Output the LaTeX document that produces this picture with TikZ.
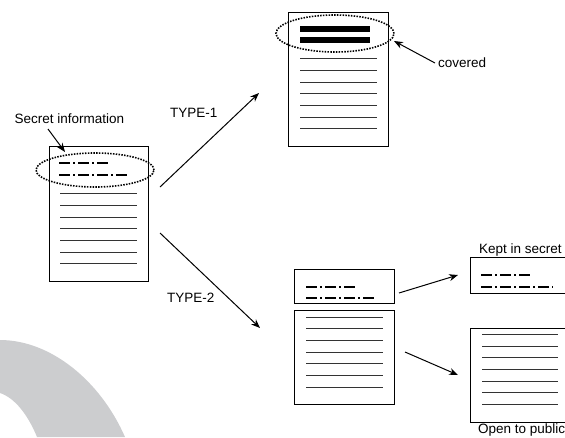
\documentclass[tikz,border=0pt]{standalone}
\usepackage{fontspec}
\setmainfont{Liberation Sans}
\usetikzlibrary{shapes.geometric,arrows.meta}
\definecolor{wmgray}{RGB}{204,205,207}
\tikzset{
  docbox/.style={draw=black, line width=1pt, fill=white, anchor=north west, inner sep=0pt},
  textline/.style={draw=black!80, line width=1pt},
  secretline/.style={draw=black, line width=2.2pt, dash pattern=on 11pt off 3pt on 2pt off 3pt},
  coverbar/.style={draw=black, line width=6pt},
  secretoval/.style={ellipse, draw=black, line width=1.6pt, dash pattern=on 1.5pt off 1.3pt, inner sep=0pt},
  lbl/.style={font=\fontsize{13.5}{16}\selectfont, anchor=base west, inner sep=0pt},
  arr/.style={draw=black, line width=1pt, -{Stealth[length=9pt,width=7pt]}}
}
\begin{document}
\begin{tikzpicture}[x=1pt,y=-1pt]
\useasboundingbox (0,0) rectangle (565,437);
% watermark arc
\fill[wmgray] (0,340) .. controls (50,340) and (100,380) .. (125,437) -- (37,437) .. controls (28,415) and (15,398) .. (0,393) -- cycle;

% left document
\node[docbox, minimum width=99pt, minimum height=135pt] (L) at (49,146) {};
\draw[secretline] (59,163) -- (111,163);
\draw[secretline] (59,175) -- (130,175);
\foreach \y in {193,205,217,228,240,252,263} \draw[textline] (60,\y) -- (137,\y);
\node[secretoval, minimum width=118pt, minimum height=34pt] (E1) at (95,170) {};
\node[lbl] (secret) at (14.5,123) {Secret information};
\coordinate (s1) at (48,129);
\coordinate (s2) at (65,152);
\draw[arr] (s1) -- (s2);

% top document (TYPE-1)
\node[docbox, minimum width=100pt, minimum height=134pt] (T) at (288,12) {};
\draw[coverbar] (300,29) -- (370,29);
\draw[coverbar] (300,40) -- (370,40);
\foreach \y in {58,70,82,93,105,117,128} \draw[textline] (300,\y) -- (377,\y);
\node[secretoval, minimum width=118pt, minimum height=37pt] (E2) at (335,33.5) {};
\node[lbl] (covered) at (438,67) {covered};
\coordinate (c1) at (435,63);
\coordinate (c2) at (394,41);
\draw[arr] (c1) -- (c2);

% type arrows
\coordinate (a1) at (160,187);
\coordinate (a2) at (259,93);
\draw[arr] (a1) -- (a2);
\node[lbl] (type1) at (170,117) {TYPE-1};
\coordinate (b1) at (160,233);
\coordinate (b2) at (260,328);
\draw[arr] (b1) -- (b2);
\node[lbl] (type2) at (167,302) {TYPE-2};

% middle split documents
\node[docbox, minimum width=100pt, minimum height=34pt] (MS) at (294,269) {};
\draw[secretline] (306,287) -- (357,287);
\draw[secretline] (306,298) -- (377,298);
\node[docbox, minimum width=100pt, minimum height=94pt] (MB) at (294,310) {};
\foreach \y in {317,328,340,352,363,375,387} \draw[textline] (306,\y) -- (383,\y);

% right documents
\node[docbox, minimum width=96pt, minimum height=36pt] (RS) at (470,257) {};
\draw[secretline] (481,275) -- (530,275);
\draw[secretline] (481,287) -- (553,287);
\node[lbl] (kept) at (479,253) {Kept in secret};
\node[docbox, minimum width=96pt, minimum height=94pt] (RB) at (470,328) {};
\foreach \y in {334,346,357,369,381,392,404} \draw[textline] (482,\y) -- (558,\y);
\node[lbl] (open) at (478,433.5) {Open to public};

\coordinate (k1) at (399,293);
\coordinate (k2) at (458,275);
\draw[arr] (k1) -- (k2);
\coordinate (o1) at (405,352);
\coordinate (o2) at (458,375);
\draw[arr] (o1) -- (o2);
\end{tikzpicture}
\end{document}
